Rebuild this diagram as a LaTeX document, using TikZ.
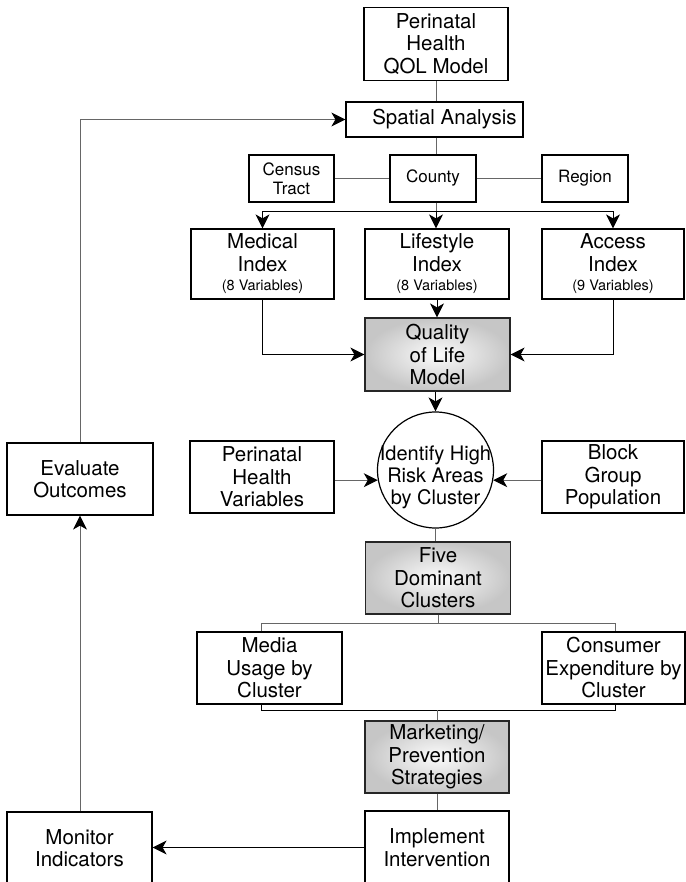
\documentclass[tikz,border=0pt]{standalone}
\usepackage{fontspec}
\setmainfont{TeX Gyre Heros}
\usetikzlibrary{arrows.meta}
\begin{document}
\begin{tikzpicture}[x=1pt,y=-1pt,
  box/.style={draw=black,line width=1.2pt,fill=white,inner sep=0pt,align=center,font=\fontsize{20.5}{22.5}\selectfont},
  sbox/.style={box,font=\fontsize{17}{19}\selectfont},
  gbox/.style={draw=black!85,line width=1.2pt,inner sep=0pt,align=center,font=\fontsize{20.5}{22.5}\selectfont,shade,inner color=gray!3,outer color=gray!45},
  gline/.style={draw=black!60,line width=1pt},
  kline/.style={draw=black,line width=1pt},
  arr/.style={kline,-{Stealth[length=14pt,width=14pt,inset=4pt]}},
  garr/.style={gline,-{Stealth[length=14pt,width=14pt,inset=4pt,color=black]}},
]
\useasboundingbox (0,0) rectangle (685,882);

\node[box,minimum width=144pt,minimum height=73pt] (top) at (436,44) {Perinatal\\Health\\QOL Model};
\node[box,minimum width=177pt,minimum height=35pt] (spatial) at (434.5,119.5) {\hspace*{20pt}Spatial Analysis};
\node[sbox,minimum width=85pt,minimum height=47pt] (census) at (291.5,178.5) {Census\\Tract};
\node[sbox,minimum width=86pt,minimum height=47pt] (county) at (433,178.5) {County};
\node[sbox,minimum width=86pt,minimum height=47pt] (region) at (585,178.5) {Region};

\node[box,minimum width=143pt,minimum height=70pt] (medical) at (262.5,264) {Medical\\Index\\[-3pt]{\fontsize{14.5}{16}\selectfont (8 Variables)}};
\node[box,minimum width=144pt,minimum height=70pt] (lifestyle) at (437,264) {Lifestyle\\Index\\[-3pt]{\fontsize{14.5}{16}\selectfont (8 Variables)}};
\node[box,minimum width=142pt,minimum height=70pt] (access) at (613,264) {Access\\Index\\[-3pt]{\fontsize{14.5}{16}\selectfont (9 Variables)}};

\node[gbox,minimum width=145pt,minimum height=73pt] (qolm) at (437.5,354.5) {Quality\\of Life\\Model};

\node[circle,draw=black,line width=1.2pt,fill=white,minimum size=116pt,inner sep=0pt] (risk) at (435.5,470) {};
\node[align=center,inner sep=0pt,font=\fontsize{20}{22}\selectfont] (risktext) at (435.5,477) {Identify High\\Risk Areas\\by Cluster};

\node[box,minimum width=144pt,minimum height=72pt] (perivar) at (262,477) {Perinatal\\Health\\Variables};
\node[box,minimum width=142pt,minimum height=72pt] (block) at (613,477) {Block\\Group\\Population};
\node[box,minimum width=146pt,minimum height=72pt] (evaluate) at (80,479) {Evaluate\\Outcomes};

\node[gbox,minimum width=145pt,minimum height=72pt] (five) at (438,578) {Five\\Dominant\\Clusters};

\node[box,minimum width=145pt,minimum height=72pt] (media) at (269.5,668) {Media\\Usage by\\Cluster};
\node[box,minimum width=143pt,minimum height=72pt] (consumer) at (613.5,668) {Consumer\\Expenditure by\\Cluster};

\node[gbox,minimum width=144pt,minimum height=72pt] (marketing) at (437,757) {Marketing/\\Prevention\\Strategies};
\node[box,minimum width=144pt,minimum height=73pt] (implement) at (437,847.5) {Implement\\Intervention};
\node[box,minimum width=145pt,minimum height=72pt] (monitor) at (79.5,848) {Monitor\\Indicators};

% connectors
\draw[gline] (top.south) -- (spatial.north -| top.south);
\draw[gline] (spatial.south -| top.south) -- (county.north -| top.south);
\draw[gline] (census.east) -- (county.west);
\draw[gline] (county.east) -- (region.west);
\coordinate (br) at (436,212);
\draw[gline] (county.south -| br) -- (br);
\draw[arr] (br) -| (medical.north);
\draw[arr] (br) -| (access.north);
\draw[arr] (br) -- (lifestyle.north -| br);

\draw[arr] (medical.south) |- (qolm.west);
\draw[arr] (access.south) |- (qolm.east);
\draw[arr] (lifestyle.south) -- (qolm.north -| lifestyle.south);
\draw[arr] (qolm.south -| risk) -- (risk.north);

\draw[garr] (perivar.east |- risk.190) -- (risk.190);
\draw[garr] (block.west |- risk.350) -- (risk.350);

\draw[gline] (risk.south) -- (five.north -| risk.south);
\coordinate (u0) at (438,623);
\coordinate (u1) at (261,623);
\coordinate (u2) at (615,623);
\draw[gline] (five.south) -- (u0);
\draw[gline] (media.north -| u1) |- (u2) -- (consumer.north -| u2);
\coordinate (d0) at (437,710);
\coordinate (d1) at (261,710);
\coordinate (d2) at (615,710);
\draw[kline] (media.south -| d1) |- (d2) -- (consumer.south -| d2);
\draw[gline] (d0) -- (marketing.north);
\draw[gline] (marketing.south) -- (implement.north);
\draw[arr] (implement.west) -- (implement.west -| monitor.east);
\draw[garr] (monitor.north -| evaluate.south) -- (evaluate.south);
\draw[garr] (evaluate.north) |- (spatial.west);
\end{tikzpicture}
\end{document}
